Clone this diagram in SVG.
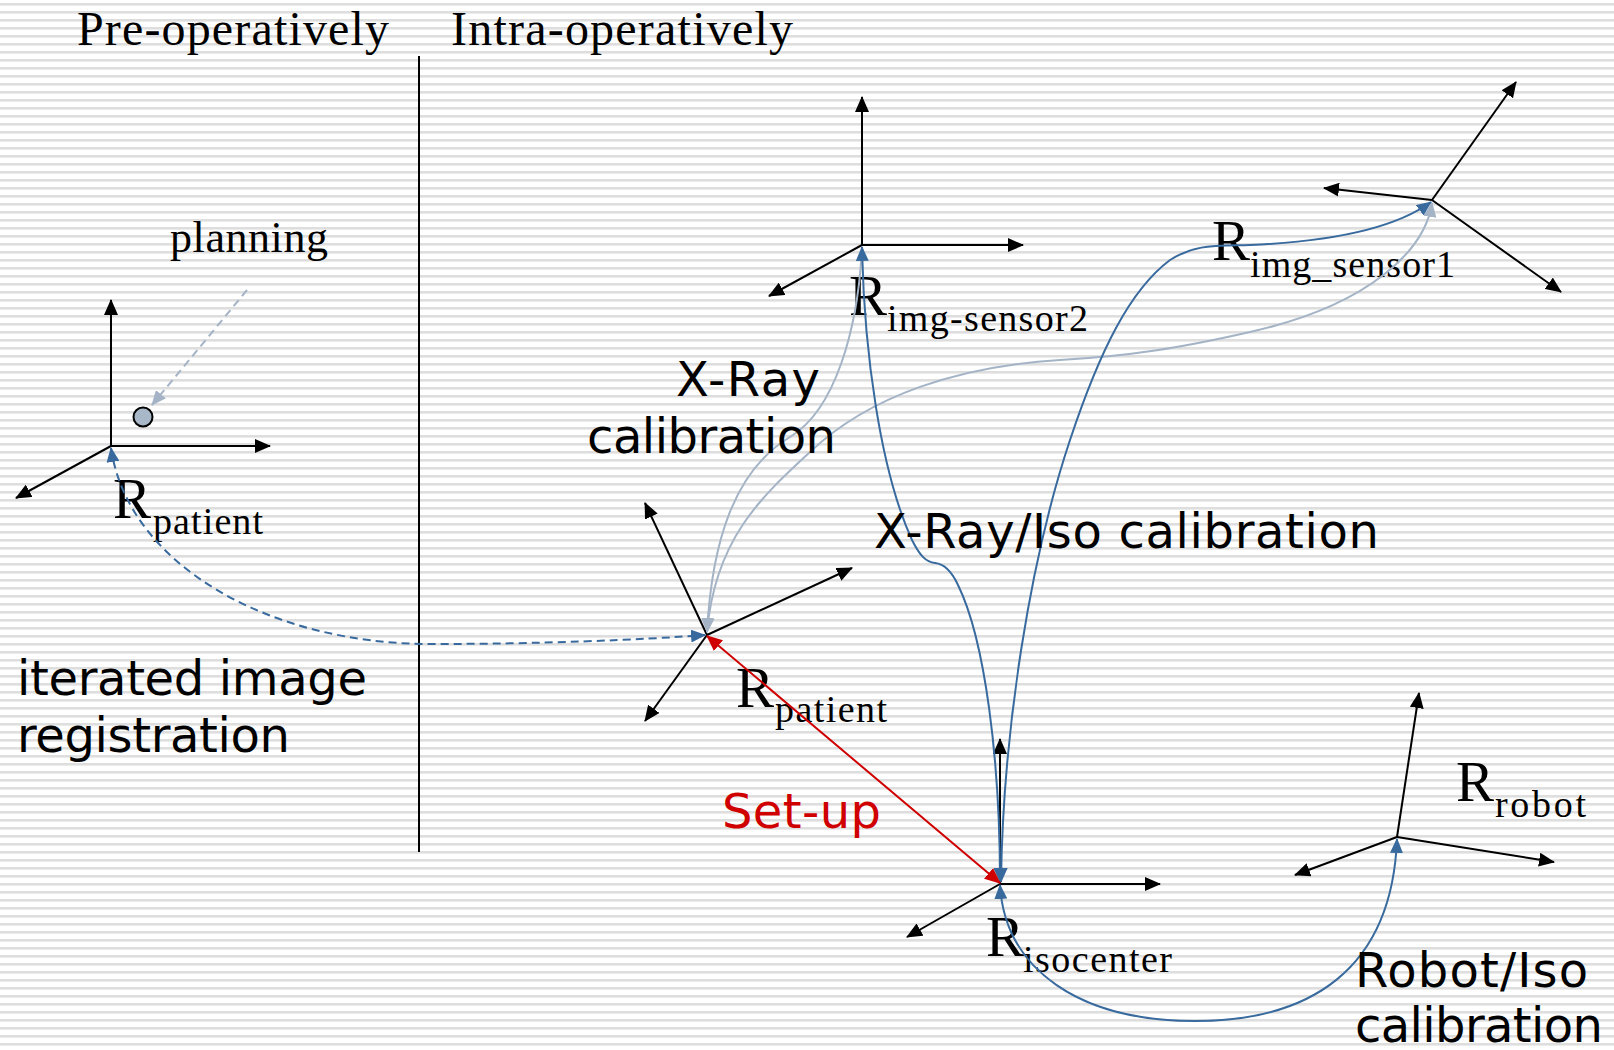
<svg xmlns="http://www.w3.org/2000/svg" width="1614" height="1050" viewBox="0 0 1614 1050">
  <defs>
    <pattern id="stripes" width="16" height="8" patternUnits="userSpaceOnUse">
      <rect width="16" height="8" fill="#ffffff"/>
      <rect y="3" width="16" height="2" fill="#dedede"/>
      <rect y="5" width="16" height="1" fill="#ebebeb"/>
    </pattern>
    <marker id="ax" markerUnits="userSpaceOnUse" markerWidth="16" markerHeight="14" refX="15" refY="7" orient="auto">
      <path d="M0,0 L16,7 L0,14 Z" fill="#000000"/>
    </marker>
    <marker id="blue" markerUnits="userSpaceOnUse" markerWidth="15" markerHeight="13" refX="14" refY="6.5" orient="auto-start-reverse">
      <path d="M0,0 L15,6.5 L0,13 Z" fill="#386a9e"/>
    </marker>
    <marker id="light" markerUnits="userSpaceOnUse" markerWidth="15" markerHeight="13" refX="14" refY="6.5" orient="auto-start-reverse">
      <path d="M0,0 L15,6.5 L0,13 Z" fill="#a4b4c6"/>
    </marker>
    <marker id="red" markerUnits="userSpaceOnUse" markerWidth="16" markerHeight="14" refX="15" refY="7" orient="auto-start-reverse">
      <path d="M0,0 L16,7 L0,14 Z" fill="#d00000"/>
    </marker>
  </defs>
  <style>
    .axis { stroke: #000000; stroke-width: 2; fill: none; marker-end: url(#ax); }
    .cal { stroke: #386a9e; stroke-width: 2; fill: none; }
    .soft { stroke: #a4b4c6; stroke-width: 2; fill: none; }
    .serif { font-family: "Liberation Serif", "Times New Roman", serif; fill: #000000; }
    .big { font-size: 57px; }
    .sub { font-size: 38px; }
    .head { font-size: 48px; }
    .sans { font-family: "DejaVu Sans", Verdana, sans-serif; font-size: 48px; fill: #000000; }
    .sans.setup { fill: #d00000; }
  </style>

  <!-- striped slide background -->
  <rect width="1614" height="1050" fill="url(#stripes)"/>

  <!-- phase headings and divider -->
  <g id="phases">
    <text class="serif head" x="77" y="45" textLength="312">Pre-operatively</text>
    <text class="serif head" x="451" y="45" textLength="342">Intra-operatively</text>
    <line x1="419" y1="56" x2="419" y2="852" stroke="#000000" stroke-width="2"/>
  </g>

  <!-- coordinate frames -->
  <g id="frame-patient-pre">
    <line class="axis" x1="111" y1="446" x2="111" y2="300"/>
    <line class="axis" x1="111" y1="446" x2="270" y2="446"/>
    <line class="axis" x1="111" y1="446" x2="16" y2="498"/>
    <circle cx="143" cy="417" r="9.5" fill="#a9b8c9" stroke="#000000" stroke-width="2"/>
    <text class="serif big" x="113" y="518">R</text>
    <text class="serif sub" x="153" y="534" textLength="110">patient</text>
  </g>

  <g id="frame-img-sensor2">
    <line class="axis" x1="862" y1="245" x2="862" y2="97"/>
    <line class="axis" x1="862" y1="245" x2="1023" y2="245"/>
    <line class="axis" x1="862" y1="245" x2="769" y2="296"/>
    <text class="serif big" x="849" y="315">R</text>
    <text class="serif sub" x="887" y="331" textLength="201">img-sensor2</text>
  </g>

  <g id="frame-img-sensor1">
    <line class="axis" x1="1432" y1="200" x2="1516" y2="82"/>
    <line class="axis" x1="1432" y1="200" x2="1324" y2="188"/>
    <line class="axis" x1="1432" y1="200" x2="1561" y2="292"/>
    <text class="serif big" x="1212" y="260">R</text>
    <text class="serif sub" x="1250" y="277" textLength="205">img_sensor1</text>
  </g>

  <g id="frame-patient-intra">
    <line class="axis" x1="707" y1="635" x2="645" y2="503"/>
    <line class="axis" x1="707" y1="635" x2="852" y2="568"/>
    <line class="axis" x1="707" y1="635" x2="645" y2="721"/>
    <text class="serif big" x="736" y="707">R</text>
    <text class="serif sub" x="775" y="722" textLength="112">patient</text>
  </g>

  <g id="frame-isocenter">
    <line class="axis" x1="1000" y1="884" x2="1000" y2="739"/>
    <line class="axis" x1="1000" y1="884" x2="1160" y2="884"/>
    <line class="axis" x1="1000" y1="884" x2="907" y2="937"/>
    <text class="serif big" x="986" y="956">R</text>
    <text class="serif sub" x="1023" y="972" textLength="149">isocenter</text>
  </g>

  <g id="frame-robot">
    <line class="axis" x1="1397" y1="837" x2="1419" y2="693"/>
    <line class="axis" x1="1397" y1="837" x2="1295" y2="875"/>
    <line class="axis" x1="1397" y1="837" x2="1554" y2="862"/>
    <text class="serif big" x="1456" y="801">R</text>
    <text class="serif sub" x="1495" y="817" textLength="91">robot</text>
  </g>

  <!-- transformations between frames -->
  <g id="connectors">
    <!-- planning target -->
    <line x1="247" y1="290" x2="152" y2="405" stroke="#a4b4c6" stroke-width="2" stroke-dasharray="8,5" marker-end="url(#light)"/>
    <!-- iterated image registration -->
    <path d="M111,448 C128,565 270,644 430,644 C540,644 640,640 705,635" stroke="#386a9e" stroke-width="2" fill="none" stroke-dasharray="8,5" marker-start="url(#blue)" marker-end="url(#blue)"/>
    <!-- X-ray calibration (light) -->
    <path class="soft" d="M862,247 C858,330 835,410 790,437 C735,470 712,540 707,632" marker-end="url(#light)"/>
    <path class="soft" d="M1432,203 C1425,250 1370,305 1250,332 C1180,348 1130,356 1060,360 C960,366 870,395 810,452 C760,498 715,540 707,632" marker-start="url(#light)" marker-end="url(#light)"/>
    <!-- X-ray / iso calibration -->
    <path class="cal" d="M862,247 C864,350 880,470 912,540 C920,556 926,562 935,563 C945,564 952,572 958,585 C985,640 1000,760 1000,882" marker-start="url(#blue)" marker-end="url(#blue)"/>
    <path class="cal" d="M1001,882 C1003,730 1030,560 1070,440 C1100,350 1130,290 1170,260 C1195,244 1215,246 1250,245 C1320,242 1390,232 1431,202" marker-start="url(#blue)" marker-end="url(#blue)"/>
    <!-- robot / iso calibration -->
    <path class="cal" d="M1000,885 C1005,970 1080,1021 1195,1021 C1310,1021 1392,970 1397,839" marker-start="url(#blue)" marker-end="url(#blue)"/>
    <!-- set-up -->
    <line x1="707" y1="636" x2="1000" y2="883" stroke="#d00000" stroke-width="2" marker-start="url(#red)" marker-end="url(#red)"/>
  </g>

  <!-- annotations -->
  <g id="labels">
    <text class="serif" x="170" y="252" font-size="44" textLength="158">planning</text>
    <text class="sans" x="676" y="396" textLength="144">X-Ray</text>
    <text class="sans" x="587" y="453" textLength="249">calibration</text>
    <text class="sans" x="874" y="548" textLength="505">X-Ray/Iso calibration</text>
    <text class="sans" x="17" y="695" textLength="350">iterated image</text>
    <text class="sans" x="17" y="752" textLength="273">registration</text>
    <text class="sans setup" x="722" y="828" textLength="159">Set-up</text>
    <text class="sans" x="1355" y="987" textLength="233">Robot/Iso</text>
    <text class="sans" x="1355" y="1042" textLength="248">calibration</text>
  </g>
</svg>
